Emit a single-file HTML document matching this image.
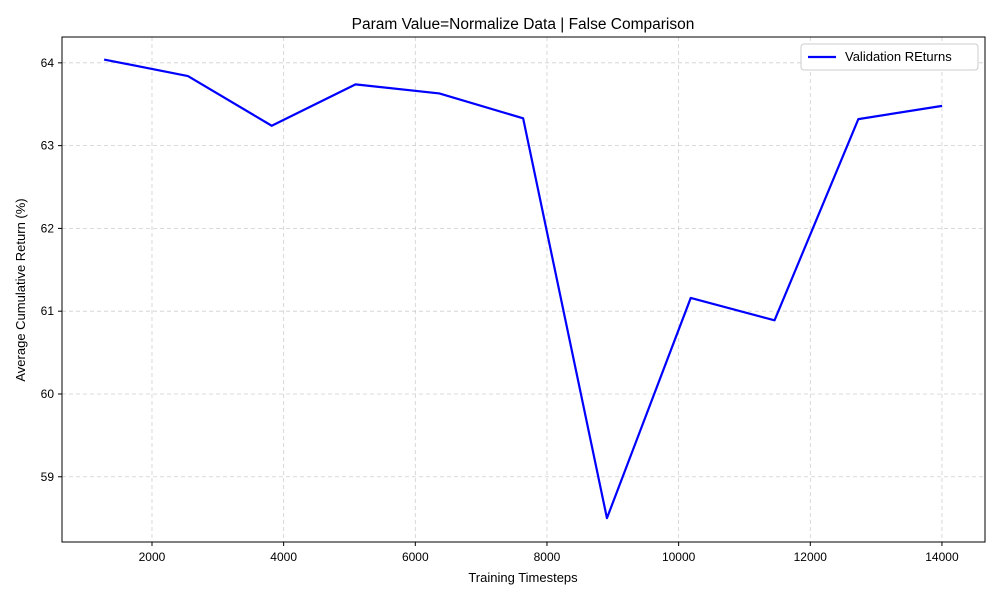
<!DOCTYPE html>
<html><head><meta charset="utf-8">
<style>
body{margin:0;background:#fff;}
svg{display:block;font-family:"Liberation Sans","DejaVu Sans",sans-serif;}
</style></head>
<body>
<svg id="chart" width="1000" height="600" xmlns="http://www.w3.org/2000/svg">
<rect width="1000" height="600" fill="#fff"/>
<text x="523" y="29" font-size="15.5" text-anchor="middle">Param Value=Normalize Data | False Comparison</text>
<g id="grid"></g>
<g id="axes"></g>
<polyline id="line" fill="none" stroke="#0000ff" stroke-width="2.2" stroke-linejoin="round"/>
<rect x="62" y="37" width="923" height="505" fill="none" stroke="#000" stroke-width="1"/>
<g>
<rect x="801" y="44" width="177" height="26" fill="#fff" stroke="#ccc" rx="3"/>
<line x1="808" y1="57" x2="836" y2="57" stroke="#0000ff" stroke-width="2.2"/>
<text x="845" y="61" font-size="13">Validation REturns</text>
</g>
<text x="523" y="582" font-size="13" text-anchor="middle">Training Timesteps</text>
<text transform="translate(25,290) rotate(-90)" font-size="13" text-anchor="middle">Average Cumulative Return (%)</text>
</svg>
<script>
const timesteps=[1273,2546,3819,5092,6365,7638,8911,10184,11457,12730,14003];
const returnsPct=[64.04,63.84,63.24,63.74,63.63,63.33,58.50,61.16,60.89,63.32,63.48];
const xTicks=[2000,4000,6000,8000,10000,12000,14000];
const yTicks=[59,60,61,62,63,64];
const L=62,R=985,T=37,B=542;
const xMin=633,xMax=14654,yMin=58.20,yMax=64.30;
const xs=v=>L+(v-xMin)/(xMax-xMin)*(R-L);
const ys=v=>B-(v-yMin)/(yMax-yMin)*(B-T)+1;
const NS="http://www.w3.org/2000/svg";
const grid=document.getElementById('grid'),axes=document.getElementById('axes');
function mk(tag,attrs,parent){const e=document.createElementNS(NS,tag);for(const k in attrs)e.setAttribute(k,attrs[k]);parent.appendChild(e);return e;}
xTicks.forEach(t=>{const x=xs(t);
 const g=mk('line',{x1:x,x2:x,y1:T,y2:B,stroke:'#b0b0b0','stroke-width':0.8,'stroke-dasharray':'4,3',opacity:0.6},grid);
 
 
 mk('line',{x1:x,x2:x,y1:B,y2:B+4,stroke:'#000'},axes);
 const tx=mk('text',{x:x,y:B+19,'font-size':12,'text-anchor':'middle'},axes);tx.textContent=t;
 
 
});
yTicks.forEach(t=>{const y=ys(t);
 const g=mk('line',{x1:L,x2:R,y1:y,y2:y,stroke:'#b0b0b0','stroke-width':0.8,'stroke-dasharray':'4,3',opacity:0.6},grid);
 
 
 mk('line',{x1:L-4,x2:L,y1:y,y2:y,stroke:'#000'},axes);
 const tx=mk('text',{x:L-8,y:y+4,'font-size':12,'text-anchor':'end'},axes);tx.textContent=t;
 
 
});
document.getElementById('line').setAttribute('points',timesteps.map((t,i)=>xs(t)+','+ys(returnsPct[i])).join(' '));
</script>
</body></html>
